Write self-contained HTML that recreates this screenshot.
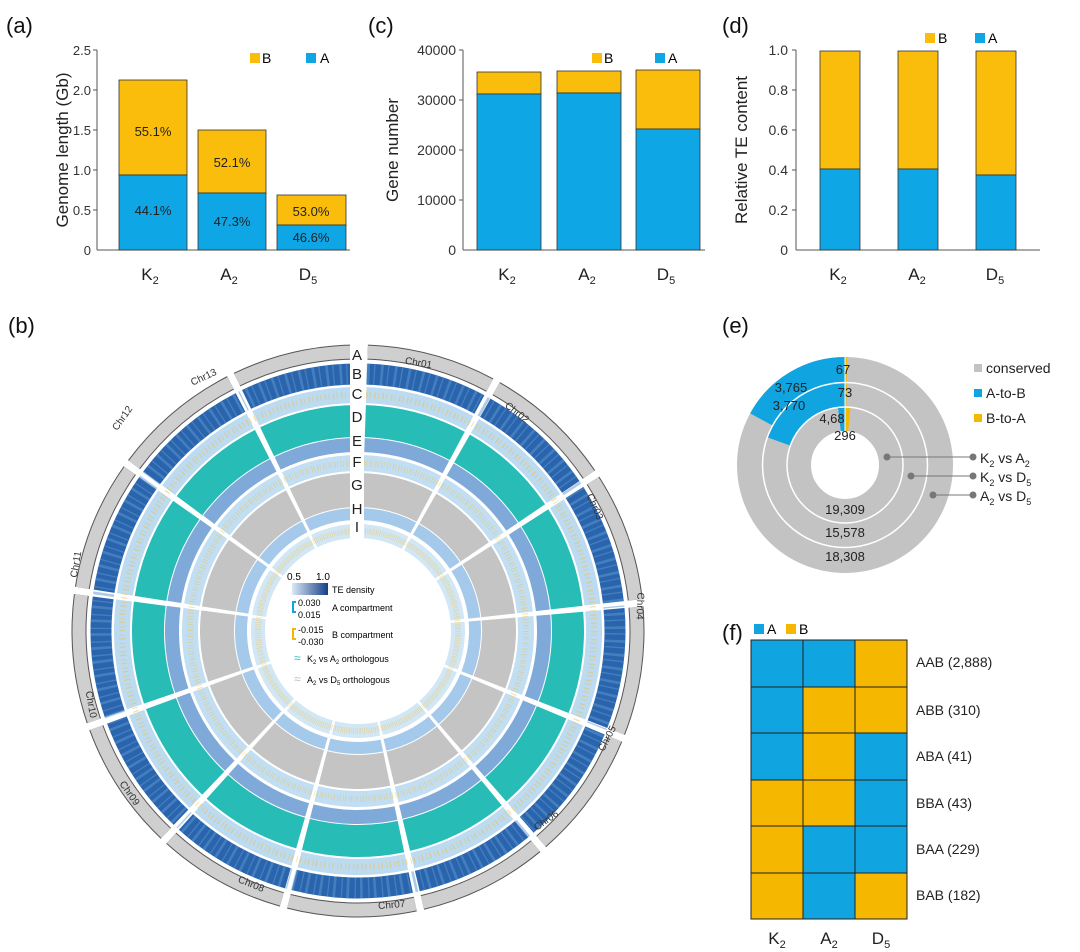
<!DOCTYPE html>
<html><head><meta charset="utf-8"><style>
body{margin:0;background:#fff}
svg{display:block;font-family:"Liberation Sans",Arial,sans-serif}
</style></head><body>
<svg width="1080" height="952" viewBox="0 0 1080 952" xmlns="http://www.w3.org/2000/svg">
<rect width="1080" height="952" fill="#fff"/>
<!-- (a) -->
<text x="6" y="33" font-size="22" fill="#111">(a)</text>
<text transform="translate(68,150) rotate(-90)" font-size="17" text-anchor="middle" fill="#222">Genome length (Gb)</text>
<g font-size="13" fill="#333" text-anchor="end">
<text x="91" y="55">2.5</text><text x="91" y="95">2.0</text><text x="91" y="135">1.5</text><text x="91" y="175">1.0</text><text x="91" y="215">0.5</text><text x="91" y="255">0</text></g>
<g stroke="#555" stroke-width="1"><line x1="97" y1="50" x2="97" y2="250"/><line x1="97" y1="250" x2="350" y2="250"/>
<line x1="93" y1="50" x2="97" y2="50"/><line x1="93" y1="90" x2="97" y2="90"/><line x1="93" y1="130" x2="97" y2="130"/><line x1="93" y1="170" x2="97" y2="170"/><line x1="93" y1="210" x2="97" y2="210"/></g>
<g stroke="#333" stroke-width="0.8">
<rect x="119" y="80" width="68" height="95" fill="#fbbd0b"/><rect x="119" y="175" width="68" height="75" fill="#0fa6e6"/>
<rect x="198" y="130" width="68" height="63" fill="#fbbd0b"/><rect x="198" y="193" width="68" height="57" fill="#0fa6e6"/>
<rect x="277" y="195" width="69" height="30" fill="#fbbd0b"/><rect x="277" y="225" width="69" height="25" fill="#0fa6e6"/></g>
<g font-size="13" fill="#222" text-anchor="middle">
<text x="153" y="136">55.1%</text><text x="153" y="215">44.1%</text>
<text x="232" y="167">52.1%</text><text x="232" y="226">47.3%</text>
<text x="311" y="216">53.0%</text><text x="311" y="242">46.6%</text></g>
<g font-size="17" fill="#222" text-anchor="middle"><text x="150" y="280">K<tspan font-size="11" dy="4">2</tspan></text><text x="229" y="280">A<tspan font-size="11" dy="4">2</tspan></text><text x="308" y="280">D<tspan font-size="11" dy="4">5</tspan></text></g>
<rect x="250" y="53" width="10" height="10" fill="#fbbd0b"/><text x="262" y="63" font-size="14">B</text>
<rect x="306" y="53" width="10" height="10" fill="#0fa6e6"/><text x="320" y="63" font-size="14">A</text>
<!-- (c) -->
<text x="368" y="33" font-size="22" fill="#111">(c)</text>
<text transform="translate(398,150) rotate(-90)" font-size="17" text-anchor="middle" fill="#222">Gene number</text>
<g font-size="14" fill="#333" text-anchor="end"><text x="456" y="55">40000</text><text x="456" y="105">30000</text><text x="456" y="155">20000</text><text x="456" y="205">10000</text><text x="456" y="255">0</text></g>
<g stroke="#555"><line x1="463" y1="50" x2="463" y2="250"/><line x1="463" y1="250" x2="705" y2="250"/>
<line x1="459" y1="50" x2="463" y2="50"/><line x1="459" y1="100" x2="463" y2="100"/><line x1="459" y1="150" x2="463" y2="150"/><line x1="459" y1="200" x2="463" y2="200"/></g>
<g stroke="#333" stroke-width="0.8">
<rect x="477" y="72" width="64" height="22" fill="#fbbd0b"/><rect x="477" y="94" width="64" height="156" fill="#0fa6e6"/>
<rect x="557" y="71" width="64" height="22" fill="#fbbd0b"/><rect x="557" y="93" width="64" height="157" fill="#0fa6e6"/>
<rect x="636" y="70" width="64" height="59" fill="#fbbd0b"/><rect x="636" y="129" width="64" height="121" fill="#0fa6e6"/></g>
<g font-size="17" fill="#222" text-anchor="middle"><text x="507" y="280">K<tspan font-size="11" dy="4">2</tspan></text><text x="587" y="280">A<tspan font-size="11" dy="4">2</tspan></text><text x="666" y="280">D<tspan font-size="11" dy="4">5</tspan></text></g>
<rect x="592" y="53" width="10" height="10" fill="#fbbd0b"/><text x="604" y="63" font-size="14">B</text>
<rect x="655" y="53" width="10" height="10" fill="#0fa6e6"/><text x="668" y="63" font-size="14">A</text>
<!-- (d) -->
<text x="722" y="33" font-size="22" fill="#111">(d)</text>
<text transform="translate(747,150) rotate(-90)" font-size="17" text-anchor="middle" fill="#222">Relative TE content</text>
<g font-size="14" fill="#333" text-anchor="end"><text x="788" y="55">1.0</text><text x="788" y="95">0.8</text><text x="788" y="135">0.6</text><text x="788" y="175">0.4</text><text x="788" y="215">0.2</text><text x="788" y="255">0</text></g>
<g stroke="#555"><line x1="796" y1="50" x2="796" y2="250"/><line x1="796" y1="250" x2="1040" y2="250"/>
<line x1="792" y1="50" x2="796" y2="50"/><line x1="792" y1="90" x2="796" y2="90"/><line x1="792" y1="130" x2="796" y2="130"/><line x1="792" y1="170" x2="796" y2="170"/><line x1="792" y1="210" x2="796" y2="210"/></g>
<g stroke="#333" stroke-width="0.8">
<rect x="820" y="51" width="40" height="118" fill="#fbbd0b"/><rect x="820" y="169" width="40" height="81" fill="#0fa6e6"/>
<rect x="898" y="51" width="40" height="118" fill="#fbbd0b"/><rect x="898" y="169" width="40" height="81" fill="#0fa6e6"/>
<rect x="976" y="51" width="40" height="124" fill="#fbbd0b"/><rect x="976" y="175" width="40" height="75" fill="#0fa6e6"/></g>
<g font-size="17" fill="#222" text-anchor="middle"><text x="838" y="280">K<tspan font-size="11" dy="4">2</tspan></text><text x="917" y="280">A<tspan font-size="11" dy="4">2</tspan></text><text x="995" y="280">D<tspan font-size="11" dy="4">5</tspan></text></g>
<rect x="925" y="33" width="10" height="10" fill="#fbbd0b"/><text x="938" y="43" font-size="14">B</text>
<rect x="975" y="33" width="10" height="10" fill="#0fa6e6"/><text x="988" y="43" font-size="14">A</text>
<!-- (b) circos -->
<text x="8" y="333" font-size="22" fill="#111">(b)</text>
<g transform="translate(358,631) rotate(-88)" fill="none">
<circle r="279" stroke="#555" stroke-width="15" pathLength="360" stroke-dasharray="26.2 1.5"/>
<circle r="279" stroke="#cfcfcf" stroke-width="13" pathLength="360" stroke-dasharray="26.2 1.5"/>
<circle r="257" stroke="#2a64ad" stroke-width="21" pathLength="360" stroke-dasharray="26.2 1.5"/>
<circle r="257" stroke="#5b97d2" stroke-width="21" pathLength="360" stroke-dasharray="0.6 0.9 0.3 1.2" opacity="0.5"/>
<circle r="236" stroke="#bcdaf0" stroke-width="16" pathLength="360" stroke-dasharray="26.2 1.5"/>
<circle r="236" stroke="#f0c040" stroke-width="6" pathLength="360" stroke-dasharray="0.3 0.6 0.2 0.9" opacity="0.5"/>
<circle r="210" stroke="#27bdb6" stroke-width="32" pathLength="360" stroke-dasharray="26.2 1.5"/>
<circle r="186" stroke="#7fa9d8" stroke-width="14" pathLength="360" stroke-dasharray="26.2 1.5"/>
<circle r="168" stroke="#c2def2" stroke-width="16" pathLength="360" stroke-dasharray="26.2 1.5"/>
<circle r="168" stroke="#f0c040" stroke-width="6" pathLength="360" stroke-dasharray="0.3 0.6 0.2 0.9" opacity="0.5"/>
<circle r="141" stroke="#c4c4c4" stroke-width="34" pathLength="360" stroke-dasharray="26.2 1.5"/>
<circle r="117" stroke="#a5c9ea" stroke-width="12" pathLength="360" stroke-dasharray="26.2 1.5"/>
<circle r="100" stroke="#d2e7f5" stroke-width="14" pathLength="360" stroke-dasharray="26.2 1.5"/>
<circle r="100" stroke="#f0c040" stroke-width="6" pathLength="360" stroke-dasharray="0.4 0.6 0.3 0.8" opacity="0.5"/>
</g>
<rect x="350" y="340" width="14" height="200" fill="#fff"/>
<g font-size="15" fill="#222" text-anchor="middle">
<text x="357" y="360">A</text><text x="357" y="379">B</text><text x="357" y="399">C</text><text x="357" y="422">D</text><text x="357" y="446">E</text><text x="357" y="467">F</text><text x="357" y="490">G</text><text x="357" y="514">H</text><text x="357" y="532">I</text></g>
<g font-size="10" fill="#333" text-anchor="middle">
<text transform="translate(418,366) rotate(10)">Chr01</text>
<text transform="translate(515,415) rotate(38)">Chr02</text>
<text transform="translate(592,508) rotate(66)">Chr03</text>
<text transform="translate(637,606) rotate(92)">Chr04</text>
<text transform="translate(610,740) rotate(-62)">Chr05</text>
<text transform="translate(548,823) rotate(-35)">Chr06</text>
<text transform="translate(392,908) rotate(-5)">Chr07</text>
<text transform="translate(250,887) rotate(22)">Chr08</text>
<text transform="translate(127,795) rotate(55)">Chr09</text>
<text transform="translate(88,705) rotate(80)">Chr10</text>
<text transform="translate(79,565) rotate(-80)">Chr11</text>
<text transform="translate(125,420) rotate(-55)">Chr12</text>
<text transform="translate(205,380) rotate(-25)">Chr13</text></g>
<!-- legend -->
<defs><linearGradient id="te"><stop offset="0" stop-color="#dbe8f5"/><stop offset="1" stop-color="#143f86"/></linearGradient></defs>
<text x="287" y="580" font-size="10">0.5</text><text x="316" y="580" font-size="10">1.0</text>
<rect x="292" y="583" width="36" height="12" fill="url(#te)"/>
<text x="332" y="593" font-size="9">TE density</text>
<path d="M296 602 h-3 v10 h3" stroke="#10a4e0" stroke-width="2" fill="none"/>
<text x="298" y="606" font-size="9">0.030</text><text x="298" y="618" font-size="9">0.015</text><text x="332" y="611" font-size="9">A compartment</text>
<path d="M296 629 h-3 v10 h3" stroke="#f5b700" stroke-width="2" fill="none"/>
<text x="298" y="633" font-size="9">-0.015</text><text x="298" y="645" font-size="9">-0.030</text><text x="332" y="638" font-size="9">B compartment</text>
<text x="294" y="662" font-size="12" fill="#27bdb6">≈</text><text x="307" y="662" font-size="9">K<tspan font-size="6" dy="2">2</tspan><tspan dy="-2"> vs A</tspan><tspan font-size="6" dy="2">2</tspan><tspan dy="-2"> orthologous</tspan></text>
<text x="294" y="683" font-size="12" fill="#bbb">≈</text><text x="307" y="683" font-size="9">A<tspan font-size="6" dy="2">2</tspan><tspan dy="-2"> vs D</tspan><tspan font-size="6" dy="2">5</tspan><tspan dy="-2"> orthologous</tspan></text>
<!-- (e) -->
<text x="722" y="333" font-size="22" fill="#111">(e)</text>
<g transform="translate(845,465)" fill="none">
<circle r="94" stroke="#c3c3c3" stroke-width="28"/>
<circle r="94" stroke="#10a4e0" stroke-width="28" pathLength="360" stroke-dasharray="61 299" transform="rotate(-151)"/>
<circle r="94" stroke="#f5b700" stroke-width="28" pathLength="360" stroke-dasharray="1.2 359" transform="rotate(-90)"/>
<circle r="70.5" stroke="#c3c3c3" stroke-width="25"/>
<circle r="70.5" stroke="#10a4e0" stroke-width="25" pathLength="360" stroke-dasharray="70 290" transform="rotate(-160)"/>
<circle r="70.5" stroke="#f5b700" stroke-width="25" pathLength="360" stroke-dasharray="1.3 359" transform="rotate(-90)"/>
<circle r="46" stroke="#c3c3c3" stroke-width="24"/>
<circle r="46" stroke="#10a4e0" stroke-width="24" pathLength="360" stroke-dasharray="7 353" transform="rotate(-97)"/>
<circle r="46" stroke="#f5b700" stroke-width="24" pathLength="360" stroke-dasharray="5.5 355" transform="rotate(-90)"/>
<circle r="82.5" stroke="#fff" stroke-width="1.5"/><circle r="58" stroke="#fff" stroke-width="1.5"/>
<line x1="0" y1="-108" x2="0" y2="-34" stroke="#fff" stroke-width="1"/>
</g>
<g font-size="13" fill="#222" text-anchor="middle">
<text x="843" y="374">67</text><text x="791" y="392">3,765</text><text x="845" y="397">73</text><text x="789" y="410">3,770</text>
<text x="832" y="423">4,68</text><text x="845" y="440">296</text>
<text x="845" y="514">19,309</text><text x="845" y="537">15,578</text><text x="845" y="561">18,308</text></g>
<g fill="#777" stroke="#777">
<circle cx="887" cy="457" r="3"/><line x1="887" y1="457" x2="973" y2="457"/><circle cx="973" cy="457" r="3"/>
<circle cx="911" cy="476" r="3"/><line x1="911" y1="476" x2="973" y2="476"/><circle cx="973" cy="476" r="3"/>
<circle cx="933" cy="495" r="3"/><line x1="933" y1="495" x2="973" y2="495"/><circle cx="973" cy="495" r="3"/></g>
<g font-size="14" fill="#222">
<text x="980" y="463">K<tspan font-size="9" dy="4">2</tspan><tspan dy="-4"> vs A</tspan><tspan font-size="9" dy="4">2</tspan></text>
<text x="980" y="482">K<tspan font-size="9" dy="4">2</tspan><tspan dy="-4"> vs D</tspan><tspan font-size="9" dy="4">5</tspan></text>
<text x="980" y="501">A<tspan font-size="9" dy="4">2</tspan><tspan dy="-4"> vs D</tspan><tspan font-size="9" dy="4">5</tspan></text>
<rect x="974" y="364" width="8" height="8" fill="#c3c3c3"/><text x="986" y="373">conserved</text>
<rect x="974" y="389" width="8" height="8" fill="#10a4e0"/><text x="986" y="398">A-to-B</text>
<rect x="974" y="414" width="8" height="8" fill="#f5b700"/><text x="986" y="423">B-to-A</text></g>
<!-- (f) -->
<text x="722" y="640" font-size="22" fill="#111">(f)</text>
<rect x="754" y="624" width="10" height="10" fill="#10a4e0"/><text x="767" y="634" font-size="14">A</text>
<rect x="786" y="624" width="10" height="10" fill="#f5b700"/><text x="799" y="634" font-size="14">B</text>
<g stroke="#222" stroke-width="1">
<rect x="751" y="640" width="52" height="47" fill="#10a4e0"/><rect x="803" y="640" width="52" height="47" fill="#10a4e0"/><rect x="855" y="640" width="52" height="47" fill="#f5b700"/>
<rect x="751" y="687" width="52" height="46" fill="#10a4e0"/><rect x="803" y="687" width="52" height="46" fill="#f5b700"/><rect x="855" y="687" width="52" height="46" fill="#f5b700"/>
<rect x="751" y="733" width="52" height="47" fill="#10a4e0"/><rect x="803" y="733" width="52" height="47" fill="#f5b700"/><rect x="855" y="733" width="52" height="47" fill="#10a4e0"/>
<rect x="751" y="780" width="52" height="46" fill="#f5b700"/><rect x="803" y="780" width="52" height="46" fill="#f5b700"/><rect x="855" y="780" width="52" height="46" fill="#10a4e0"/>
<rect x="751" y="826" width="52" height="47" fill="#f5b700"/><rect x="803" y="826" width="52" height="47" fill="#10a4e0"/><rect x="855" y="826" width="52" height="47" fill="#10a4e0"/>
<rect x="751" y="873" width="52" height="46" fill="#f5b700"/><rect x="803" y="873" width="52" height="46" fill="#10a4e0"/><rect x="855" y="873" width="52" height="46" fill="#f5b700"/></g>
<g font-size="14" fill="#222">
<text x="916" y="667">AAB (2,888)</text><text x="916" y="715">ABB  (310)</text><text x="916" y="761">ABA   (41)</text>
<text x="916" y="808">BBA   (43)</text><text x="916" y="854">BAA  (229)</text><text x="916" y="900">BAB  (182)</text></g>
<g font-size="17" fill="#222" text-anchor="middle"><text x="777" y="944">K<tspan font-size="11" dy="4">2</tspan></text><text x="829" y="944">A<tspan font-size="11" dy="4">2</tspan></text><text x="881" y="944">D<tspan font-size="11" dy="4">5</tspan></text></g>
</svg>
</body></html>
